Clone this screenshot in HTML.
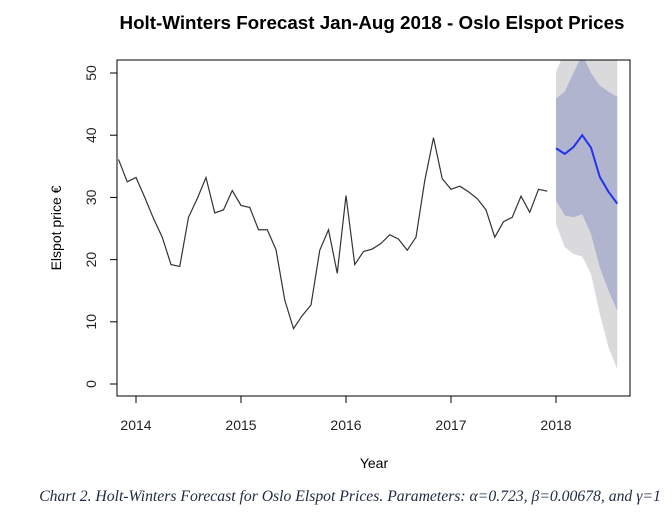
<!DOCTYPE html>
<html><head><meta charset="utf-8"><style>
body{margin:0;background:#fff;width:672px;height:520px;overflow:hidden}
svg{display:block}
</style></head><body>
<svg width="672" height="520" xmlns="http://www.w3.org/2000/svg">
<defs><clipPath id="clip"><rect x="117" y="60" width="513" height="336"/></clipPath></defs>
<text x="372" y="29" text-anchor="middle" font-family="Liberation Sans, sans-serif" font-weight="bold" font-size="18.8" fill="#000">Holt-Winters Forecast Jan-Aug 2018 - Oslo Elspot Prices</text>
<g id="bands" clip-path="url(#clip)"></g>
<g id="lines" clip-path="url(#clip)"></g>
<rect x="117" y="60" width="513" height="336" fill="none" stroke="#000" stroke-width="1"/>
<g id="axes" font-family="Liberation Sans, sans-serif" font-size="14" fill="#222"></g>
<text x="374" y="468" text-anchor="middle" font-family="Liberation Sans, sans-serif" font-size="14">Year</text>
<text transform="translate(61,228) rotate(-90)" text-anchor="middle" font-family="Liberation Sans, sans-serif" font-size="14">Elspot price €</text>
<text x="350" y="501" text-anchor="middle" font-family="Liberation Serif, serif" font-style="italic" font-size="15.7" fill="#1f2a44">Chart 2. Holt-Winters Forecast for Oslo Elspot Prices. Parameters: α=0.723, β=0.00678, and γ=1</text>
</svg>
<script>
const observed = [36.1,32.5,33.2,30.0,26.6,23.6,19.2,18.9,26.8,29.8,33.2,27.5,28.0,31.1,
 28.7,28.4,24.8,24.8,21.6,13.5,8.9,11.0,12.7,21.5,24.8,17.8,
 30.3,19.2,21.3,21.7,22.6,24.0,23.3,21.5,23.6,32.7,39.6,33.0,
 31.3,31.8,30.9,29.8,28.0,23.6,26.1,26.8,30.2,27.6,31.3,31.0];
const observedStart = 2013 + 10/12; // Nov 2013
const forecast = [37.9,37.0,38.1,40.0,38.0,33.3,30.9,29.0];
const forecastStart = 2018;
const hi80 = [45.9,47.0,50.0,53.0,50.0,48.0,47.0,46.2];
const lo80 = [29.5,27.1,26.8,27.3,24.1,18.8,15.0,11.8];
const hi95 = [50.2,53.5,56.0,58.0,56.0,55.0,54.0,53.0];
const lo95 = [25.7,22.0,20.9,20.5,17.7,11.3,5.9,2.4];
const xTicks = [2014,2015,2016,2017,2018];
const yTicks = [0,10,20,30,40,50];

const X = t => 136 + (t-2014)*105;
const Y = v => 384 - v*6.22;
const NS='http://www.w3.org/2000/svg';
function mk(tag, attrs, parent){const e=document.createElementNS(NS,tag);for(const k in attrs)e.setAttribute(k,attrs[k]);parent.appendChild(e);return e;}
const bands=document.getElementById('bands'), lines=document.getElementById('lines'), axes=document.getElementById('axes');
function band(hi,lo,fill,name){
  const up=hi.map((v,i)=>X(forecastStart+i/12)+','+Y(v));
  const dn=lo.map((v,i)=>X(forecastStart+i/12)+','+Y(v)).reverse();
  const p=mk('polygon',{points:up.concat(dn).join(' '),fill:fill},bands);
  
  
}
band(hi95,lo95,'#dadadd','band-95');
band(hi80,lo80,'#b1b4cf','band-80');
const ol=mk('polyline',{points:observed.map((v,i)=>X(observedStart+i/12)+','+Y(v)).join(' '),fill:'none',stroke:'#333',"stroke-width":1.2},lines);


const fl=mk('polyline',{points:forecast.map((v,i)=>X(forecastStart+i/12)+','+Y(v)).join(' '),fill:'none',stroke:'#2233ee',"stroke-width":2},lines);


mk('line',{x1:X(2014),x2:X(2018),y1:396,y2:396,stroke:'#000'},axes);
xTicks.forEach(t=>{
  mk('line',{x1:X(t),x2:X(t),y1:396,y2:403,stroke:'#000'},axes);
  const tx=mk('text',{x:X(t),y:430,"text-anchor":"middle"},axes);
  tx.textContent=t;
  
  
});
yTicks.forEach(v=>{
  mk('line',{x1:110,x2:117,y1:Y(v),y2:Y(v),stroke:'#000'},axes);
  const tx=mk('text',{transform:`translate(96,${Y(v)}) rotate(-90)`,"text-anchor":"middle"},axes);
  tx.textContent=v;
  
  
});
</script>
</body></html>
